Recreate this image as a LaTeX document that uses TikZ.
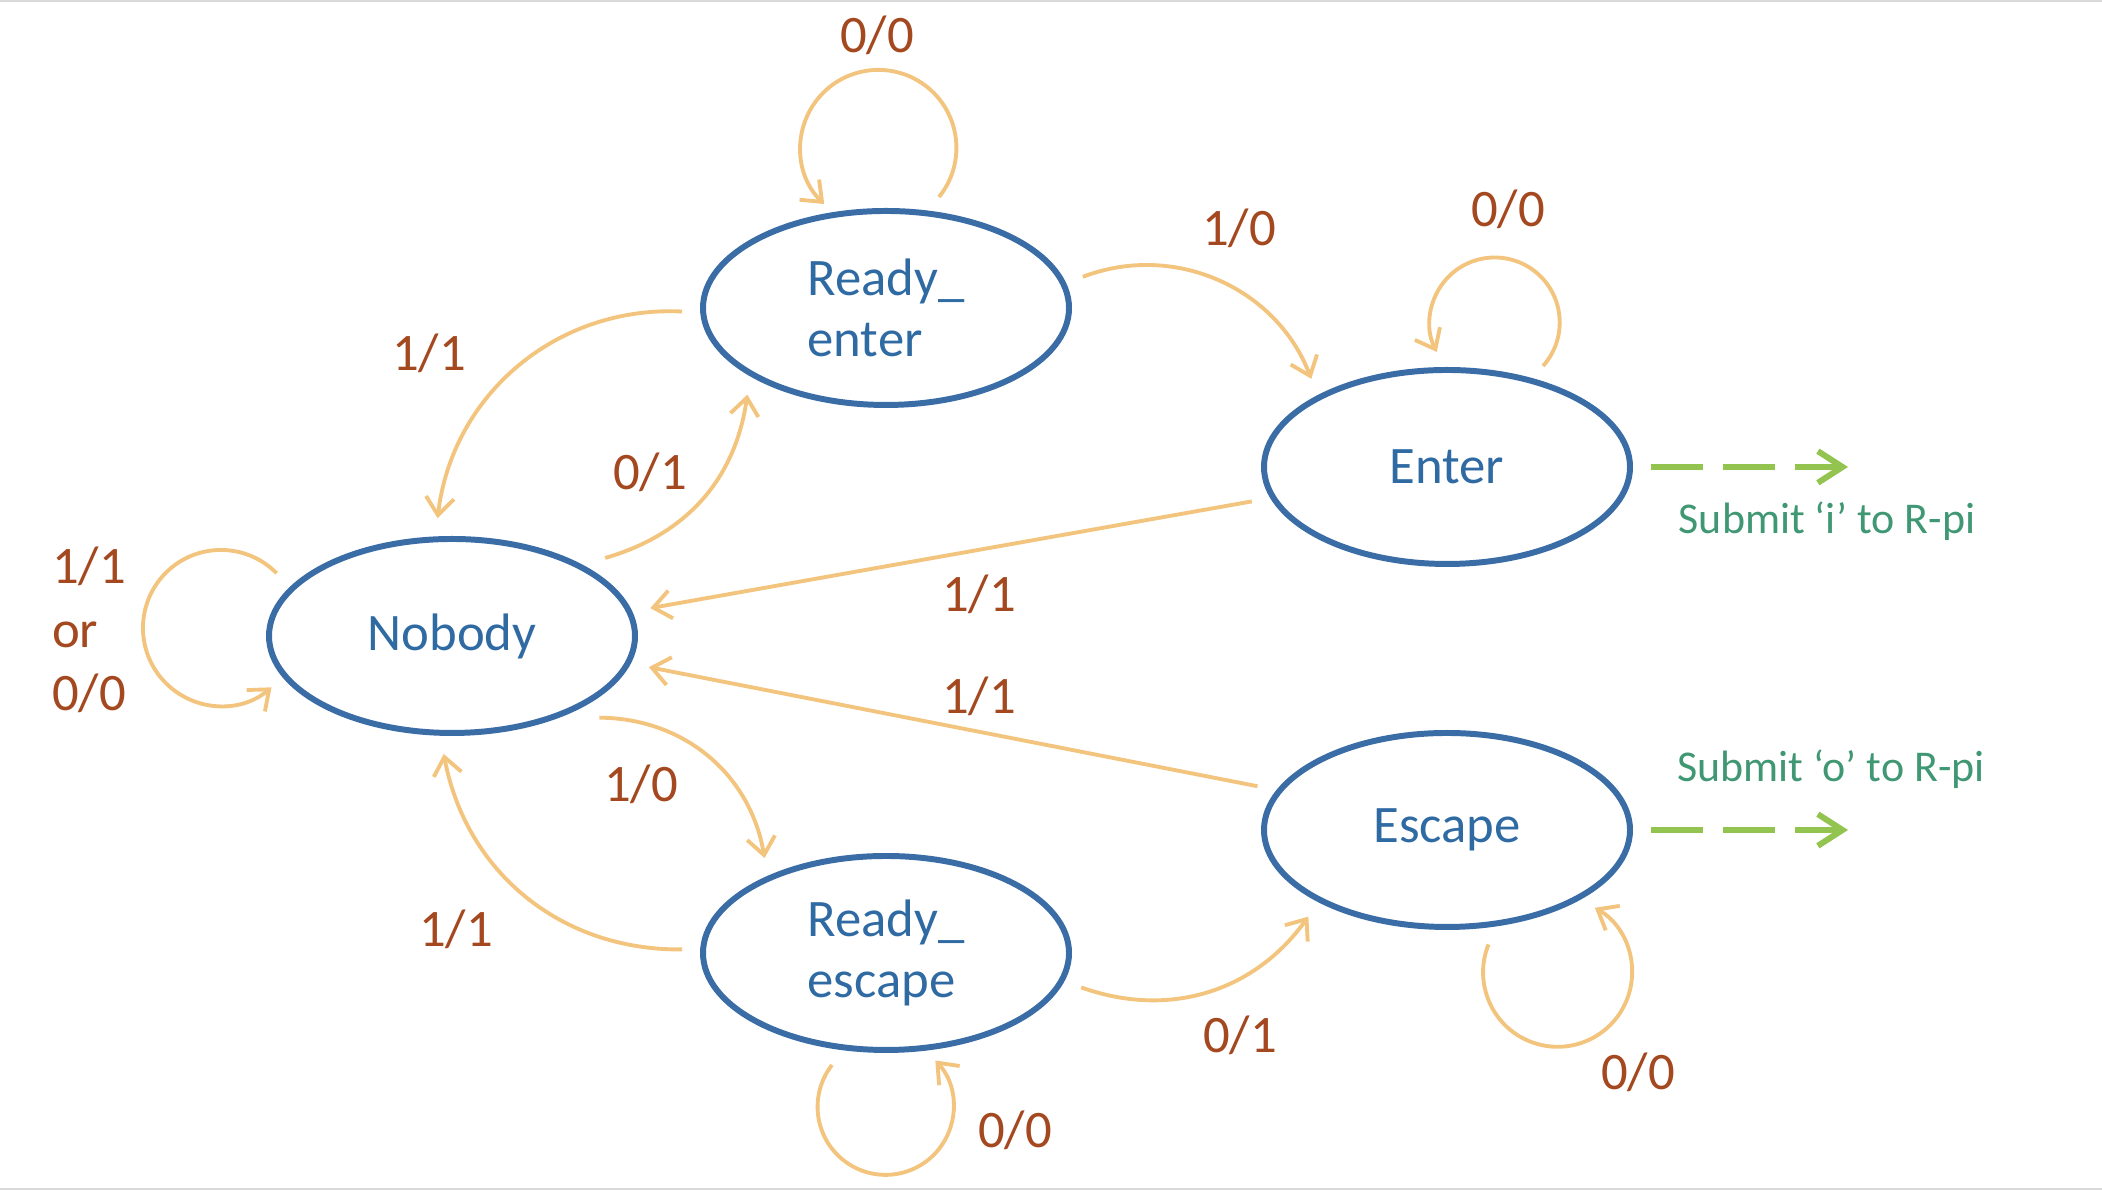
\documentclass[tikz,border=0pt]{standalone}
\usepackage{fontspec}
\setmainfont{Carlito}
\usetikzlibrary{shapes.geometric,arrows.meta}

\definecolor{stateblue}{HTML}{3A6CA6}
\definecolor{nameblue}{HTML}{2F6AA3}
\definecolor{arcorange}{HTML}{F2C47D}
\definecolor{lblbrown}{HTML}{A44820}
\definecolor{sendgreen}{HTML}{92C44F}
\definecolor{notegreen}{HTML}{409773}

\begin{document}
\begin{tikzpicture}[
        state/.style={ellipse,draw=stateblue,line width=1.7pt,minimum width=3.66cm,minimum height=1.94cm,
            inner sep=0pt,outer sep=6pt,text=nameblue,align=left,font=\fontsize{15}{17.5}\selectfont},
        trans/.style={draw=arcorange,line width=1.1pt,-{Straight Barb[length=5pt,width=8pt]}},
        lbl/.style={text=lblbrown,align=left,font=\fontsize{15}{18}\selectfont},
        send/.style={draw=sendgreen,line width=1.7pt,dash pattern=on 14.8pt off 5.7pt,
            -{Straight Barb[length=7pt,width=9pt]}},
        note/.style={text=notegreen,font=\fontsize{12.5}{15}\selectfont}]
    \useasboundingbox (0,0) rectangle (21.02,11.9);
    \draw[gray!30,line width=0.7pt] (0,11.89) -- (21.02,11.89);
    \draw[gray!30,line width=0.7pt] (0,0.01) -- (21.02,0.01);

    % states
    \node[state] (re) at (8.86,8.82) {Ready\_\\enter};
    \node[state] (en) at (14.47,7.23) {Enter};
    \node[state] (nb) at (4.52,5.54) {Nobody};
    \node[state] (es) at (14.47,3.60) {Escape};
    \node[state] (rs) at (8.86,2.37) {Ready\_\\escape};

    % self loops
    \draw[trans] ([shift={(0.53,1.11)}]re.center) arc[start angle=-39,end angle=226,radius=0.78]
        node[lbl] at (8.77,11.55) {0/0};
    \draw[trans] ([shift={(0.96,1.01)}]en.center) arc[start angle=-42,end angle=207,radius=0.65]
        node[lbl] at (15.08,9.81) {0/0};
    \draw[trans] ([shift={(-1.754,0.627)}]nb.center) arc[start angle=44.5,end angle=310.4,radius=0.78]
        node[lbl] at (0.89,5.60) {1/1\\or\\0/0};
    \draw[trans] ([shift={(-0.54,-1.12)}]rs.center) arc[start angle=142,end angle=403,radius=0.68]
        node[lbl] at (10.15,0.60) {0/0};
    \draw[trans] ([shift={(0.415,-1.144)}]es.center) arc[start angle=158,end angle=420,radius=0.745]
        node[lbl] at (16.38,1.18) {0/0};

    % transitions
    \draw[trans] (re.9) to[bend left=45] (en.147) node[lbl] at (12.39,9.62) {1/0};
    \draw[trans] (re.181) to[bend right=43] (nb.97) node[lbl] at (4.29,8.37) {1/1};
    \draw[trans] (nb.27) to[bend right=33] (re.212) node[lbl] at (6.50,7.18) {0/1};
    \draw[trans] (en.190) -- (nb.8) node[lbl] at (9.79,5.96) {1/1};
    \draw[trans] (es.167) -- (nb.351) node[lbl] at (9.79,4.94) {1/1};
    \draw[trans] (nb.331) to[bend left=40] (rs.142) node[lbl] at (6.41,4.06) {1/0};
    \draw[trans] (rs.179) to[bend left=40] (nb.266) node[lbl] at (4.56,2.61) {1/1};
    \draw[trans] (rs.350) to[bend right=37] (es.212) node[lbl] at (12.40,1.55) {0/1};

    % outputs to the R-pi
    \coordinate (ei) at (18.48,7.23);
    \coordinate (eo) at (18.48,3.60);
    \draw[send] (en.east) -- (ei);
    \draw[send] (es.east) -- (eo);
    \node[note] (ni) at (18.27,6.69) {Submit ‘i’ to R-pi};
    \node[note] (no) at (18.31,4.21) {Submit ‘o’ to R-pi};
\end{tikzpicture}
\end{document}
